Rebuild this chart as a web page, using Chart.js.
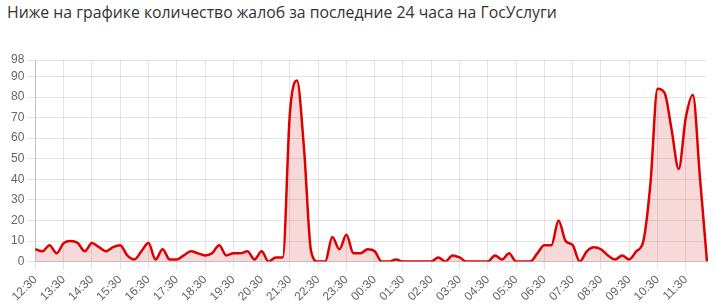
<!DOCTYPE html>
<html>
<head>
<meta charset="utf-8">
<script src="https://cdn.jsdelivr.net/npm/chart.js@4"></script>
<style>
  html, body { margin: 0; padding: 0; background: #fff; }
  #wrap { position: relative; width: 717px; height: 307px; overflow: hidden; }
  #title {
    position: absolute; left: 7px; top: 2px;
    font: 15.8px "Open Sans", sans-serif; color: #333; line-height: 20px;
    white-space: nowrap;
  }
  #c { position: absolute; left: 0; top: 0; }
</style>
</head>
<body>
<div id="wrap">
  <div id="title">Ниже на графике количество жалоб за последние 24 часа на ГосУслуги</div>
  <canvas id="c" width="717" height="307"></canvas>
</div>
<script>
// 15-minute samples, 12:30 -> 12:15 next day
var times = [
  "12:30","12:45","13:00","13:15","13:30","13:45","14:00","14:15",
  "14:30","14:45","15:00","15:15","15:30","15:45","16:00","16:15",
  "16:30","16:45","17:00","17:15","17:30","17:45","18:00","18:15",
  "18:30","18:45","19:00","19:15","19:30","19:45","20:00","20:15",
  "20:30","20:45","21:00","21:15","21:30","21:45","22:00","22:15",
  "22:30","22:45","23:00","23:15","23:30","23:45","00:00","00:15",
  "00:30","00:45","01:00","01:15","01:30","01:45","02:00","02:15",
  "02:30","02:45","03:00","03:15","03:30","03:45","04:00","04:15",
  "04:30","04:45","05:00","05:15","05:30","05:45","06:00","06:15",
  "06:30","06:45","07:00","07:15","07:30","07:45","08:00","08:15",
  "08:30","08:45","09:00","09:15","09:30","09:45","10:00","10:15",
  "10:30","10:45","11:00","11:15","11:30","11:45","12:00","12:15"
];

var complaints = [
  6, 5, 8, 4, 9, 10, 9, 5,
  9, 7, 5, 7, 8, 3, 1, 5,
  9, 1, 6, 1, 1, 3, 5, 4,
  3, 4, 8, 3, 4, 4, 5, 1,
  5, 0, 2, 2, 72, 88, 55, 5,
  0, 0, 12, 6, 13, 4, 4, 6,
  5, 0, 0, 1, 0, 0, 0, 0,
  0, 2, 0, 3, 2, 0, 0, 0,
  0, 3, 1, 4, 0, 0, 0, 4,
  8, 8, 20, 10, 8, 0, 5, 7,
  6, 3, 1, 3, 1, 5, 10, 38,
  84, 82, 64, 45, 70, 81, 41, 0
];

// labelled hours on the x axis
var hourTicks = [
  "12:30","13:30","14:30","15:30","16:30","17:30","18:30","19:30",
  "20:30","21:30","22:30","23:30","00:30","01:30","02:30","03:30",
  "04:30","05:30","06:30","07:30","08:30","09:30","10:30","11:30"
];

var yTicks = [0, 10, 20, 30, 40, 50, 60, 70, 80, 90, 98];

var tickFont = { family: "'Liberation Sans', Arial, sans-serif", size: 12 };

new Chart(document.getElementById("c"), {
  type: "line",
  data: {
    labels: times,
    datasets: [{
      label: "Жалобы",
      data: complaints,
      borderColor: "rgb(222, 0, 0)",
      backgroundColor: "rgba(200, 0, 0, 0.15)",
      borderWidth: 2.5,
      fill: "origin",
      pointRadius: 0,
      cubicInterpolationMode: "monotone"
    }]
  },
  options: {
    responsive: false,
    animation: false,
    layout: { padding: { top: 60, right: 10, left: 8, bottom: 0 } },
    plugins: {
      legend: { display: false },
      tooltip: { enabled: false }
    },
    scales: {
      x: {
        grid: { color: "rgba(0,0,0,0.1)" },
        border: { color: "rgba(0,0,0,0.15)" },
        afterBuildTicks: function (scale) {
          scale.ticks = hourTicks.map(function (t) {
            return { value: times.indexOf(t) };
          });
        },
        ticks: {
          autoSkip: false,
          minRotation: 45,
          maxRotation: 45,
          color: "#666",
          font: tickFont
        }
      },
      y: {
        min: 0,
        max: 98,
        grid: { color: "rgba(0,0,0,0.1)" },
        border: { color: "rgba(0,0,0,0.15)" },
        afterBuildTicks: function (scale) {
          scale.ticks = yTicks.map(function (v) { return { value: v }; });
        },
        ticks: { color: "#666", font: tickFont }
      }
    }
  }
});
</script>
</body>
</html>
